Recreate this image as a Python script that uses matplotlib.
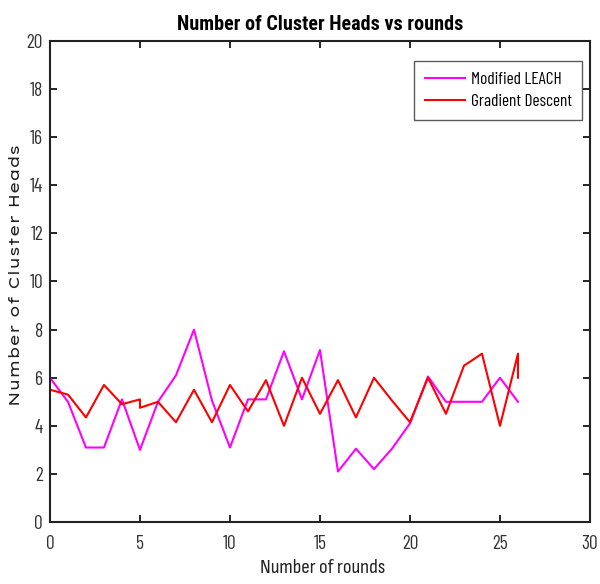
import matplotlib
matplotlib.use("Agg")
import matplotlib.pyplot as plt
from matplotlib import font_manager

rounds_leach = list(range(27))
modified_leach = [6.0, 5.0, 3.1, 3.1, 5.1, 3.0, 5.0, 6.1, 8.0, 5.05, 3.1, 5.1, 5.1, 7.1,
                  5.1, 7.15, 2.1, 3.05, 2.2, 3.05, 4.1, 6.05, 5.0, 5.0, 5.0, 6.0, 5.0]

rounds_gd = [0, 1, 2, 3, 4, 5, 5, 6, 7, 8, 9, 10, 11, 12, 13, 14, 15, 16, 17, 18, 19, 20,
             21, 22, 23, 24, 25, 26, 26]
gradient_descent = [5.5, 5.3, 4.35, 5.7, 4.9, 5.1, 4.75, 5.0, 4.15, 5.5, 4.15, 5.7, 4.6, 5.9,
                    4.0, 6.0, 4.5, 5.9, 4.35, 6.0, 5.05, 4.15, 6.0, 4.5, 6.5, 7.0, 4.0, 7.0, 6.0]

xticks = [0, 5, 10, 15, 20, 25, 30]
yticks = [0, 2, 4, 6, 8, 10, 12, 14, 16, 18, 20]

names = {f.name for f in font_manager.fontManager.ttflist}
narrow_cands = [n for n in ["Arial Narrow", "Liberation Sans Narrow", "Nimbus Sans Narrow",
                            "Roboto Condensed", "Archivo Narrow", "Barlow Condensed",
                            "Barlow Semi Condensed", "Fira Sans Condensed", "Asap Condensed",
                            "Encode Sans Condensed", "IBM Plex Sans Condensed", "Sofia Sans Condensed",
                            "Liberation Sans"] if n in names]
wide_cands = [n for n in ["Lexend Deca", "Lexend Exa", "Lexend Giga", "Lexend Mega",
                          "Encode Sans Expanded", "Encode Sans Semi Expanded", "DejaVu Sans",
                          "Liberation Sans"] if n in names]

fig = plt.figure(figsize=(6.0, 5.84), dpi=100)
renderer = fig.canvas.get_renderer()


def pick(text, cands, size, target, weight="normal"):
    best, bestd = cands[0], 1e9
    for c in cands:
        t = fig.text(0, 0, text, family=c, fontsize=size, fontweight=weight)
        w = t.get_window_extent(renderer).width
        t.remove()
        if abs(w - target) < bestd:
            best, bestd = c, abs(w - target)
    return best


tick_font = pick("10", narrow_cands, 14, 12.7)
title_font = pick("Number of Cluster Heads vs rounds", narrow_cands, 14.5, 285, "bold")
xlab_font = pick("Number of rounds", narrow_cands, 15, 122)
leg_font = pick("Modified LEACH", narrow_cands, 12.5, 90)
ylab_font = pick("Number of Cluster Heads", wide_cands, 11, 268)

ax = fig.add_axes([0.0833, 0.106, 0.9, 0.824])

ax.plot(rounds_leach, modified_leach, color="#ff00ff", lw=1.5, label="Modified LEACH")
ax.plot(rounds_gd, gradient_descent, color="#ff0000", lw=1.5, label="Gradient Descent")

ax.set_xlim(0, 30)
ax.set_ylim(0, 20)
ax.set_xticks(xticks)
ax.set_yticks(yticks)
ax.tick_params(direction="in", top=True, right=True, length=5, width=1.2,
               labelsize=14, pad=5)
ax.tick_params(axis="x", pad=9)
for lab in ax.get_xticklabels() + ax.get_yticklabels():
    lab.set_family(tick_font)
    lab.set_color("#333333")
for s in ax.spines.values():
    s.set_linewidth(1.5)
    s.set_color("#222222")

ax.set_title("Number of Cluster Heads vs rounds", family=title_font, fontweight="bold",
             fontsize=14.5, pad=8)
ax.set_xlabel("Number of rounds", family=xlab_font, fontsize=15, color="#222222")
ax.xaxis.set_label_coords(0.505, -0.095)
ax.xaxis.label.set_va("center")
ax.set_ylabel("Number of Cluster Heads", family=ylab_font, fontsize=11, color="#222222")
ax.yaxis.set_label_coords(-0.062, 0.513)
ax.yaxis.label.set_va("center")

leg = ax.legend(loc="upper right", bbox_to_anchor=(0.986, 0.958),
                prop={"family": leg_font, "size": 12.5},
                frameon=True, fancybox=False, handlelength=2.3, borderpad=0.62,
                labelspacing=0.42, handletextpad=0.35, borderaxespad=0.0)
leg.get_frame().set_edgecolor("#333333")
leg.get_frame().set_linewidth(1.0)

fig.savefig("out.png", dpi=100)
